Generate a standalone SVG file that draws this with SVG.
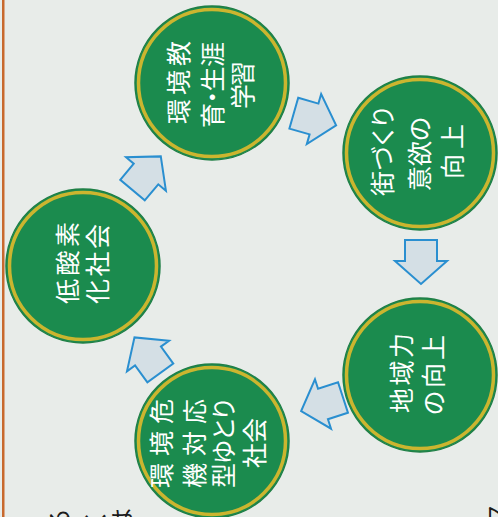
<svg xmlns="http://www.w3.org/2000/svg" width="498" height="517" viewBox="0 0 498 517">
<style>
.bg{fill:#e8ece9}
.edge{fill:#c8692e}
.disc{fill:#1b8b4e;stroke:#1f7f45;stroke-width:1.5}
.ring{fill:none;stroke:#cbb52f;stroke-width:3.5}
.lbl{font-family:"Noto Sans CJK JP","Noto Sans CJK SC",sans-serif;font-size:25px;fill:#ffffff;font-feature-settings:"palt"}
.arr{fill:#d4dfe5;stroke:#2a8fd0;stroke-width:2;stroke-linejoin:miter}
.frag{font-family:"Noto Sans CJK JP",sans-serif;font-size:24px;fill:#1c1c1c}
</style>
<defs>
<path id="blk" d="M-21,-16 H0 V-26 L23,0 L0,26 V16 H-21 Z"/>
</defs>
<rect class="bg" x="0" y="0" width="498" height="517"/>
<rect class="edge" x="2" y="0" width="2.5" height="517"/>

<g id="connectors">
<use href="#blk" class="arr" transform="translate(146,174) rotate(-50)"/>
<use href="#blk" class="arr" transform="translate(314,119) rotate(16)"/>
<use href="#blk" class="arr" transform="translate(421,261) rotate(90)"/>
<use href="#blk" class="arr" transform="translate(323,404) rotate(162)"/>
<use href="#blk" class="arr" transform="translate(148,356) rotate(-126)"/>
</g>

<g id="node-education">
<circle class="disc" cx="212" cy="83" r="77"/>
<circle class="ring" cx="212" cy="83" r="73.5"/>
<text class="lbl" transform="translate(188,124) rotate(-90)" textLength="83" lengthAdjust="spacing">環境教</text>
<text class="lbl" transform="translate(222,128) rotate(-90)" textLength="86" lengthAdjust="spacing">育・生涯</text>
<text class="lbl" transform="translate(252,109) rotate(-90)" textLength="48" lengthAdjust="spacing">学習</text>
</g>

<g id="node-town">
<circle class="disc" cx="420" cy="153" r="77"/>
<circle class="ring" cx="420" cy="153" r="73.5"/>
<text class="lbl" transform="translate(392,196) rotate(-90)" textLength="89" lengthAdjust="spacing">街づくり</text>
<text class="lbl" transform="translate(429,191) rotate(-90)" textLength="74" lengthAdjust="spacing">意欲の</text>
<text class="lbl" transform="translate(462,179) rotate(-90)" textLength="55" lengthAdjust="spacing">向上</text>
</g>

<g id="node-region">
<circle class="disc" cx="420" cy="375" r="77"/>
<circle class="ring" cx="420" cy="375" r="73.5"/>
<text class="lbl" transform="translate(411,413) rotate(-90)" textLength="80" lengthAdjust="spacing">地域力</text>
<text class="lbl" transform="translate(443,415) rotate(-90)" textLength="80" lengthAdjust="spacing">の向上</text>
</g>

<g id="node-crisis">
<circle class="disc" cx="212" cy="441" r="77"/>
<circle class="ring" cx="212" cy="441" r="73.5"/>
<text class="lbl" transform="translate(171,488) rotate(-90)" textLength="89" lengthAdjust="spacing">環境危</text>
<text class="lbl" transform="translate(204,488) rotate(-90)" textLength="89" lengthAdjust="spacing">機対応</text>
<text class="lbl" transform="translate(233,488) rotate(-90)" textLength="89" lengthAdjust="spacing">型ゆとり</text>
<text class="lbl" transform="translate(264,468) rotate(-90)" textLength="50" lengthAdjust="spacing">社会</text>
</g>

<g id="node-lowcarbon">
<circle class="disc" cx="83" cy="266" r="77"/>
<circle class="ring" cx="83" cy="266" r="73.5"/>
<text class="lbl" transform="translate(77,304) rotate(-90)" textLength="82" lengthAdjust="spacing">低酸素</text>
<text class="lbl" transform="translate(107,304) rotate(-90)" textLength="80" lengthAdjust="spacing">化社会</text>
</g>

<g id="page-fragments">
<text class="frag" transform="translate(68,532) rotate(-90)">る</text>
<text class="frag" transform="translate(104,532) rotate(-90)">く</text>
<text class="frag" transform="translate(131,532) rotate(-90)">は</text>
<text class="frag" transform="translate(506,526) rotate(-90)">ス</text>
</g>
</svg>
